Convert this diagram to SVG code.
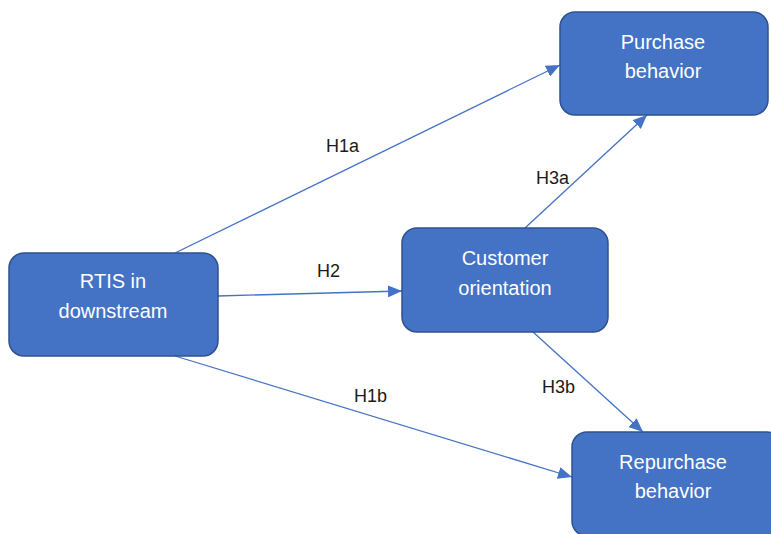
<svg xmlns="http://www.w3.org/2000/svg" width="771" height="534" viewBox="0 0 771 534">
  <style>
    .box { fill: #4472C4; stroke: #2F528F; stroke-width: 1.5; }
    .box-text { fill: #FFFFFF; font-family: "Liberation Sans", Arial, sans-serif; font-size: 20px; text-anchor: middle; }
    .edge { stroke: #4472C4; stroke-width: 1.3; fill: none; marker-end: url(#arrow); }
    .edge-label { fill: #1A1A1A; font-family: "Liberation Sans", Arial, sans-serif; font-size: 18px; }
  </style>
  <defs>
    <marker id="arrow" markerUnits="userSpaceOnUse" markerWidth="14" markerHeight="12" viewBox="0 0 14 12" refX="14" refY="6" orient="auto">
      <path d="M0,0 L14,6 L0,12 Z" fill="#4472C4"/>
    </marker>
  </defs>
  <rect width="771" height="534" fill="#FFFFFF"/>

  <g id="connectors">
    <line class="edge" x1="175" y1="253" x2="560" y2="65"/>
    <line class="edge" x1="218" y1="296" x2="402" y2="291"/>
    <line class="edge" x1="175" y1="356" x2="572" y2="477"/>
    <line class="edge" x1="525" y1="228" x2="647" y2="115"/>
    <line class="edge" x1="533" y1="332" x2="643" y2="432"/>
    <text class="edge-label" x="326" y="152">H1a</text>
    <text class="edge-label" x="317" y="277">H2</text>
    <text class="edge-label" x="354" y="402">H1b</text>
    <text class="edge-label" x="536" y="184">H3a</text>
    <text class="edge-label" x="542" y="393">H3b</text>
  </g>

  <g id="node-rtis">
    <rect class="box" x="9" y="253" width="209" height="103" rx="15"/>
    <text class="box-text" x="113" y="288">RTIS in</text>
    <text class="box-text" x="113" y="318">downstream</text>
  </g>

  <g id="node-customer">
    <rect class="box" x="402" y="228" width="206" height="104" rx="15"/>
    <text class="box-text" x="505" y="265">Customer</text>
    <text class="box-text" x="505" y="295">orientation</text>
  </g>

  <g id="node-purchase">
    <rect class="box" x="560" y="12" width="208" height="103" rx="15"/>
    <text class="box-text" x="663" y="49">Purchase</text>
    <text class="box-text" x="663" y="78">behavior</text>
  </g>

  <g id="node-repurchase">
    <rect class="box" x="572" y="432" width="210" height="104" rx="15"/>
    <text class="box-text" x="673" y="469">Repurchase</text>
    <text class="box-text" x="673" y="498">behavior</text>
  </g>
</svg>
